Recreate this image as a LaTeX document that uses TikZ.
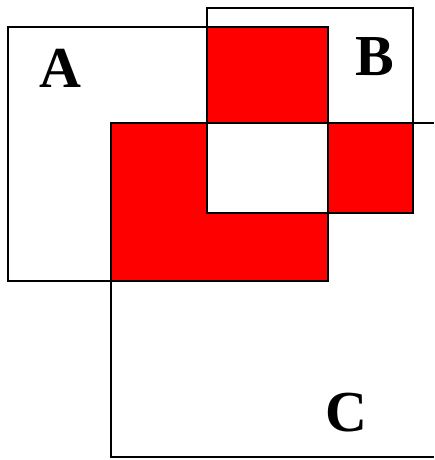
\documentclass[tikz,border=0pt]{standalone}
\usepackage{fontspec}
\setmainfont{Liberation Serif}
\usetikzlibrary{calc}

\begin{document}
\begin{tikzpicture}[
  x=1pt, y=-1pt,
  setbox/.style={draw=black, line width=1.4pt},
  overlap/.style={fill=red, draw=black!80, line width=1.2pt},
  setlabel/.style={font=\fontsize{58}{62}\selectfont\bfseries, inner sep=0pt}
]
  \useasboundingbox (0,0) rectangle (434,460);

  % corners of the three sets
  \coordinate (a1) at (8,27);    \coordinate (a2) at (328,281);
  \coordinate (b1) at (207,8);   \coordinate (b2) at (413,213);
  \coordinate (c1) at (111,123); \coordinate (c2) at (434,457);

  % parts lying in exactly two sets
  \fill[overlap] (b1 |- a1) rectangle (a2 |- c1);
  \fill[overlap] (a2 |- c1) rectangle (b2);
  \fill[overlap] (c1) -- (b1 |- c1) -- (b1 |- b2) -- (a2 |- b2)
    -- (a2) -- (c1 |- a2) -- cycle;

  \draw[setbox] (a1) rectangle (a2);
  \draw[setbox] (b1) rectangle (b2);
  \draw[setbox] (c2 |- c1) -- (c1) -- (c1 |- c2) -- (c2);

  \node[setlabel] (la) at (60,68)  {A};
  \node[setlabel] (lb) at (375,57) {B};
  \node[setlabel] (lc) at (346,413) {C};
\end{tikzpicture}
\end{document}
